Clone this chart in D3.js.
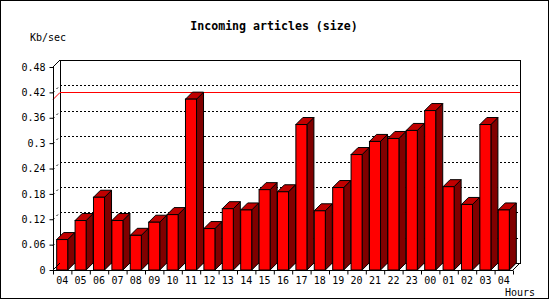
<!DOCTYPE html>
<html>
<head>
<meta charset="utf-8">
<script src="https://cdn.jsdelivr.net/npm/d3@7"></script>
<style>
  body { margin: 0; background: #fff; }
  svg { display: block; }
  text { font-family: "DejaVu Sans Mono", monospace; font-size: 10px; fill: #000; }
  .axis path, .axis line { stroke: #000; }
</style>
</head>
<body>
<svg width="550" height="300"></svg>
<script>
// hours (x categories) and incoming size in Kb/sec
var hours = ['04','05','06','07','08','09','10','11','12','13','14','15','16',
             '17','18','19','20','21','22','23','00','01','02','03','04'];
var kbsec = [0.072, 0.117, 0.172, 0.117, 0.082, 0.113, 0.131, 0.404, 0.098, 0.145,
             0.142, 0.190, 0.185, 0.344, 0.140, 0.195, 0.273, 0.304, 0.311, 0.330,
             0.377, 0.197, 0.155, 0.344, 0.142];
var yTicks = [0, 0.06, 0.12, 0.18, 0.24, 0.3, 0.36, 0.42, 0.48];
var yTickLabels = ['0','0.06','0.12','0.18','0.24','0.3','0.36','0.42','0.48'];

const plotLeft = 53, plotRight = 513, plotBottom = 270, plotTop = 67;
const dx = 7, dy = 7;   // 3d depth

const svg = d3.select('svg');

svg.append('rect')
  .attr('x', 0.5).attr('y', 0.5)
  .attr('width', 548).attr('height', 298)
  .attr('fill', '#fff').attr('stroke', '#000');

const yScale = d3.scaleLinear()
  .domain([0, 0.48])
  .range([plotBottom, plotTop]);

const xScale = d3.scaleBand()
  .domain(d3.range(hours.length))
  .range([plotLeft, plotRight])
  .paddingInner(0.4)
  .paddingOuter(0.2);

const xEdges = d3.scaleLinear()
  .domain([0, hours.length])
  .range([plotLeft, plotRight]);

const chart = svg.append('g');

// back wall
chart.append('rect')
  .attr('x', plotLeft + dx + 0.5).attr('y', plotTop - dy + 0.5)
  .attr('width', plotRight - plotLeft).attr('height', plotBottom - plotTop)
  .attr('fill', 'none').attr('stroke', '#000')
  .attr('shape-rendering', 'crispEdges');

// dashed grid on back wall + diagonal connectors
yTicks.slice(1, -1).forEach(function(t) {
  var y = Math.round(yScale(t)) + 0.5;
  chart.append('line')
    .attr('x1', plotLeft + dx).attr('x2', plotRight + dx)
    .attr('y1', y - dy).attr('y2', y - dy)
    .attr('stroke', '#000').attr('stroke-dasharray', '2,2')
    .attr('shape-rendering', 'crispEdges');
  chart.append('line')
    .attr('x1', plotLeft).attr('x2', plotLeft + dx)
    .attr('y1', y).attr('y2', y - dy)
    .attr('stroke', '#000').attr('stroke-dasharray', '2,3');
});

// red line at maximum
var maxY = Math.round(yScale(d3.max(kbsec))) + 0.5;
chart.append('polyline')
  .attr('points', [[plotLeft, maxY], [plotLeft + dx, maxY - dy], [plotRight + dx, maxY - dy]].join(' '))
  .attr('fill', 'none').attr('stroke', '#f00');

// bars
const bars = chart.selectAll('g.bar')
  .data(kbsec)
  .enter()
  .append('g')
  .attr('class', 'bar');

bars.append('polygon')
  .attr('points', function(d, i) {
    var x0 = xScale(i), x1 = x0 + xScale.bandwidth();
    return [[x0, plotBottom], [x1, plotBottom], [x1 + dx, plotBottom - dy], [x0 + dx, plotBottom - dy]].join(' ');
  })
  .attr('fill', '#808080');

bars.append('polygon')
  .attr('points', function(d, i) {
    var x1 = xScale(i) + xScale.bandwidth(), y = yScale(d);
    return [[x1, plotBottom], [x1, y], [x1 + dx, y - dy], [x1 + dx, plotBottom - dy]].join(' ');
  })
  .attr('fill', '#800000').attr('stroke', '#000').attr('stroke-linejoin', 'round');

bars.append('polygon')
  .attr('points', function(d, i) {
    var x0 = xScale(i), x1 = x0 + xScale.bandwidth(), y = yScale(d);
    return [[x0, y], [x1, y], [x1 + dx, y - dy], [x0 + dx, y - dy]].join(' ');
  })
  .attr('fill', '#c00000').attr('stroke', '#000').attr('stroke-linejoin', 'round');

bars.append('rect')
  .attr('x', function(d, i) { return xScale(i); })
  .attr('y', function(d) { return yScale(d); })
  .attr('width', xScale.bandwidth())
  .attr('height', function(d) { return plotBottom - yScale(d); })
  .attr('fill', '#f00').attr('stroke', '#000');

// front frame diagonals
[[plotLeft, plotTop], [plotLeft, plotBottom], [plotRight, plotBottom]].forEach(function(p) {
  chart.append('line')
    .attr('x1', p[0]).attr('y1', p[1])
    .attr('x2', p[0] + dx).attr('y2', p[1] - dy)
    .attr('stroke', '#000');
});

// y axis
const yAxis = chart.append('g')
  .attr('class', 'axis')
  .attr('transform', 'translate(' + (plotLeft + 0.5) + ',0)')
  .call(d3.axisLeft(yScale)
    .tickValues(yTicks)
    .tickSize(4)
    .tickPadding(4)
    .tickFormat(function(d, i) { return yTickLabels[i]; }));
yAxis.select('.domain').attr('d', 'M0,' + plotTop + 'V' + plotBottom);
yAxis.attr('font-family', null).attr('font-size', null);

// x axis: tick marks at band edges, labels at band centres
const xAxis = chart.append('g')
  .attr('class', 'axis')
  .attr('transform', 'translate(0,' + (plotBottom + 0.5) + ')')
  .call(d3.axisBottom(xEdges)
    .tickValues(d3.range(hours.length + 1))
    .tickSize(4)
    .tickFormat(''));
xAxis.select('.domain').attr('d', 'M' + plotLeft + ',0H' + plotRight);
xAxis.attr('font-family', null).attr('font-size', null);

chart.selectAll('text.xlabel')
  .data(hours)
  .enter()
  .append('text')
  .attr('class', 'xlabel')
  .attr('x', function(d, i) { return xScale(i) + xScale.bandwidth() / 2; })
  .attr('y', 284)
  .attr('text-anchor', 'middle')
  .text(function(d) { return d; });

svg.append('text')
  .attr('x', 274)
  .attr('y', 30)
  .attr('text-anchor', 'middle')
  .style('font-weight', 'bold')
  .style('font-size', '11.6px')
  .text('Incoming articles (size)');

svg.append('text')
  .attr('x', 30)
  .attr('y', 40.5)
  .text('Kb/sec');

svg.append('text')
  .attr('x', 505)
  .attr('y', 295.5)
  .text('Hours');
</script>
</body>
</html>
